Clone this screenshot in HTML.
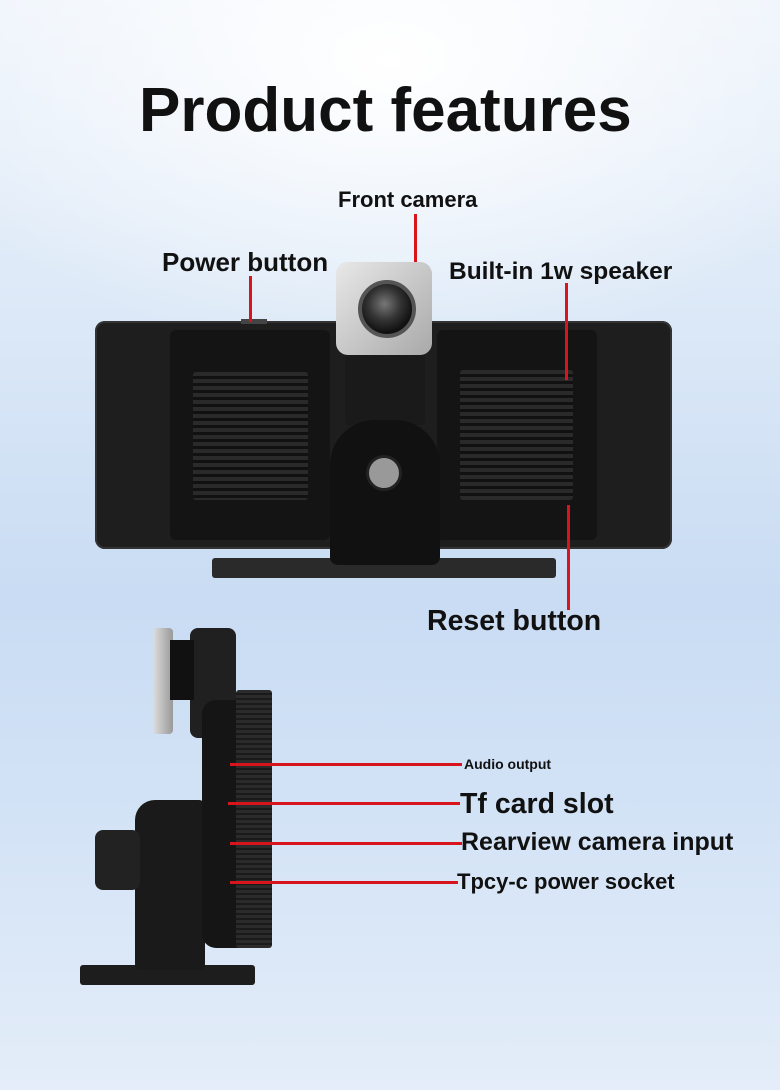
<!DOCTYPE html>
<html><head><meta charset="utf-8"><style>
body{margin:0}
#c{position:relative;width:780px;height:1090px;overflow:hidden;font-family:"Liberation Sans","DejaVu Sans",sans-serif;
background:radial-gradient(ellipse 500px 300px at 390px 60px,#ffffff 0%,rgba(255,255,255,0) 100%),
linear-gradient(180deg,#eef4fb 0%,#dbe8f7 30%,#c9dcf3 55%,#d3e3f6 75%,#e4edf9 100%);}
.t{position:absolute;font-weight:bold;color:#111;white-space:nowrap}
.r{position:absolute;background:#d8141c}
.a{position:absolute}
.grille{position:absolute;background:repeating-linear-gradient(180deg,#2a2a2a 0 4px,#111 4px 7px);border-radius:3px}
</style></head><body><div id="c">
<div class="t" style="left:139px;top:75px;font-size:62px;letter-spacing:0px">Product features</div>

<div class="a" style="left:212px;top:558px;width:344px;height:20px;background:#2a2a2a;border-radius:3px"></div>
<div class="a" style="left:95px;top:321px;width:577px;height:228px;background:#1e1e1e;border-radius:10px;box-shadow:inset 0 0 0 2px #333"></div>
<div class="a" style="left:170px;top:330px;width:160px;height:210px;background:#141414;border-radius:6px"></div>
<div class="a" style="left:437px;top:330px;width:160px;height:210px;background:#141414;border-radius:6px"></div>
<div class="grille" style="left:193px;top:372px;width:115px;height:128px"></div>
<div class="grille" style="left:460px;top:370px;width:113px;height:130px"></div>
<div class="a" style="left:345px;top:340px;width:80px;height:85px;background:#1a1a1a;border-radius:4px"></div>
<div class="a" style="left:330px;top:420px;width:110px;height:145px;background:#111;border-radius:45px 45px 8px 8px"></div>
<div class="a" style="left:366px;top:455px;width:30px;height:30px;background:#999;border-radius:50%;border:3px solid #222"></div>
<div class="a" style="left:336px;top:262px;width:96px;height:93px;background:linear-gradient(135deg,#e8e8e8,#a9a9a9);border-radius:12px"></div>
<div class="a" style="left:358px;top:280px;width:50px;height:50px;background:radial-gradient(circle at 45% 40%,#777 0%,#333 40%,#111 70%);border-radius:50%;border:4px solid #555"></div>
<div class="a" style="left:241px;top:319px;width:26px;height:5px;background:#444"></div>

<div class="t" style="left:338px;top:187px;font-size:22px">Front camera</div>
<div class="r" style="left:414px;top:214px;width:3px;height:48px"></div>
<div class="t" style="left:162px;top:247px;font-size:26px">Power button</div>
<div class="r" style="left:249px;top:276px;width:3px;height:46px"></div>
<div class="t" style="left:449px;top:258px;font-size:24.5px">Built-in 1w speaker</div>
<div class="r" style="left:565px;top:283px;width:3px;height:97px"></div>
<div class="t" style="left:427px;top:605px;font-size:28.5px">Reset button</div>
<div class="r" style="left:567px;top:505px;width:3px;height:105px"></div>

<div class="a" style="left:80px;top:965px;width:175px;height:20px;background:#1d1d1d;border-radius:3px"></div>
<div class="a" style="left:135px;top:800px;width:70px;height:170px;background:#1a1a1a;border-radius:20px 6px 6px 6px"></div>
<div class="a" style="left:95px;top:830px;width:45px;height:60px;background:#222;border-radius:8px"></div>
<div class="a" style="left:190px;top:628px;width:46px;height:110px;background:#202020;border-radius:8px"></div>
<div class="a" style="left:153px;top:628px;width:20px;height:106px;background:linear-gradient(90deg,#ddd,#999);border-radius:4px"></div>
<div class="a" style="left:170px;top:640px;width:24px;height:60px;background:#111"></div>
<div class="a" style="left:202px;top:700px;width:70px;height:248px;background:#151515;border-radius:14px 4px 4px 14px"></div>
<div class="a" style="left:236px;top:690px;width:36px;height:258px;background:repeating-linear-gradient(180deg,#2b2b2b 0 3px,#1a1a1a 3px 5px);border-radius:3px"></div>

<div class="r" style="left:230px;top:763px;width:232px;height:3px"></div>
<div class="t" style="left:464px;top:756px;font-size:14px">Audio output</div>
<div class="r" style="left:228px;top:802px;width:232px;height:3px"></div>
<div class="t" style="left:460px;top:788px;font-size:28.5px">Tf card slot</div>
<div class="r" style="left:230px;top:842px;width:232px;height:3px"></div>
<div class="t" style="left:461px;top:828px;font-size:25px">Rearview camera input</div>
<div class="r" style="left:230px;top:881px;width:228px;height:3px"></div>
<div class="t" style="left:457px;top:869px;font-size:22px">Tpcy-c power socket</div>
</div></body></html>
